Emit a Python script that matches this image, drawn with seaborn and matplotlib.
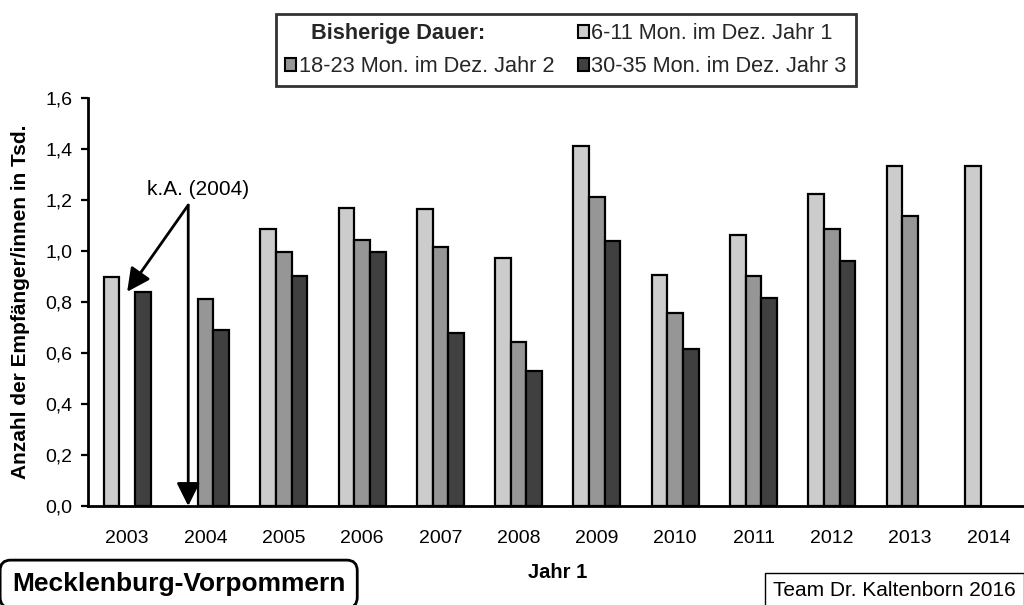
import numpy as np
import pandas as pd
import matplotlib
matplotlib.use("Agg")
import matplotlib.pyplot as plt
from matplotlib.patches import Patch
from matplotlib.ticker import FuncFormatter
import seaborn as sns

# ---- data ----
years = ["2003", "2004", "2005", "2006", "2007", "2008", "2009", "2010", "2011", "2012", "2013", "2014"]
series_names = ["6-11 Mon. im Dez. Jahr 1", "18-23 Mon. im Dez. Jahr 2", "30-35 Mon. im Dez. Jahr 3"]
vals_6_11 = [0.897, np.nan, 1.086, 1.167, 1.163, 0.974, 1.412, 0.906, 1.063, 1.225, 1.335, 1.332]
vals_18_23 = [np.nan, 0.812, 0.997, 1.043, 1.017, 0.644, 1.210, 0.756, 0.901, 1.086, 1.137, np.nan]
vals_30_35 = [0.840, 0.690, 0.903, 0.995, 0.677, 0.531, 1.040, 0.616, 0.817, 0.961, np.nan, np.nan]
colors = ["#CCCCCC", "#969696", "#404040"]

rows = []
for name, vals in zip(series_names, [vals_6_11, vals_18_23, vals_30_35]):
    for y, v in zip(years, vals):
        rows.append({"Jahr": y, "Serie": name, "Wert": v})
df = pd.DataFrame(rows)

sns.set_theme(style="white")
plt.rcParams["font.family"] = ["Liberation Sans", "DejaVu Sans"]

W, H = 1024, 605
fig = plt.figure(figsize=(W / 100, H / 100), dpi=100)
left_px, right_px, top_px, bot_px = 88, 88 + 12 * 78.3, 98, 506
ax = fig.add_axes([left_px / W, 1 - bot_px / H, (right_px - left_px) / W, (bot_px - top_px) / H])

sns.barplot(data=df, x="Jahr", y="Wert", hue="Serie", order=years, hue_order=series_names,
            palette=dict(zip(series_names, colors)), saturation=1, width=0.6,
            errorbar=None, edgecolor="black", linewidth=1.6, legend=False, ax=ax)

ax.set_xlim(-0.5, 11.5)
ax.set_ylim(0, 1.6)
ax.set_yticks(np.arange(0, 1.61, 0.2))
ax.yaxis.set_major_formatter(FuncFormatter(lambda v, p: f"{v:.1f}".replace(".", ",")))
for s in ["top", "right"]:
    ax.spines[s].set_visible(False)
for s in ["left", "bottom"]:
    ax.spines[s].set_color("black")
    ax.spines[s].set_linewidth(2)
ax.tick_params(axis="y", direction="out", length=5, width=1.6, color="black", pad=6, labelsize=14, labelcolor="black", left=True)
ax.tick_params(axis="x", length=0, pad=17, labelsize=14, labelcolor="black")

ax.set_xlabel("")
ax.set_ylabel("Anzahl der Empfänger/innen in Tsd.", fontsize=15, fontweight="bold", color="black")
ax.yaxis.set_label_coords((21 - left_px) / (right_px - left_px), 0.5)
ax.yaxis.label.set_va("center")

# annotation k.A. (2004)
arrow_kw = dict(arrowstyle="-|>,head_length=0.7,head_width=0.35", color="black", lw=2,
                shrinkA=0, shrinkB=0, mutation_scale=20)
ax.annotate("", xy=(0.0, 0.84), xytext=(0.78, 1.18), arrowprops=arrow_kw)
ax.annotate("", xy=(0.78, 0.0), xytext=(0.78, 1.18), arrowprops=arrow_kw)
ax.text(0.905, 1.243, "k.A. (2004)", fontsize=15, ha="center", va="center", color="black")

# x label
fig.text(558 / W, 1 - 573 / H, "Jahr 1", fontsize=14.5, fontweight="bold", ha="center", va="center", color="black")

# legend
handles = [Patch(facecolor="none", edgecolor="none"),
           Patch(facecolor=colors[1], edgecolor="black", linewidth=1.5),
           Patch(facecolor=colors[0], edgecolor="black", linewidth=1.5),
           Patch(facecolor=colors[2], edgecolor="black", linewidth=1.5)]
labels = ["  Bisherige Dauer:", series_names[1], series_names[0], series_names[2]]
leg = fig.legend(handles, labels, ncol=2, loc="upper left", bbox_to_anchor=(276 / W, 1 - 14 / H),
                 fontsize=15.7, frameon=True, fancybox=False, edgecolor="black",
                 handlelength=0.52, handleheight=0.52, handletextpad=0.12, columnspacing=1.05,
                 labelspacing=0.55, borderpad=0.42, borderaxespad=0)
leg.get_frame().set_linewidth(2)
leg.get_texts()[0].set_fontweight("bold")

# region box
fig.text(12 / W, 1 - 584 / H, "Mecklenburg-Vorpommern", fontsize=19, fontweight="bold",
         ha="left", va="center", color="black",
         bbox=dict(boxstyle="round,pad=0.45,rounding_size=0.4", fc="white", ec="black", lw=2))

# source box
fig.text(773 / W, 1 - 590 / H, "Team Dr. Kaltenborn 2016", fontsize=15, ha="left", va="center",
         color="black", bbox=dict(boxstyle="square,pad=0.38", fc="white", ec="black", lw=1))

fig.savefig("out.png", dpi=100)
